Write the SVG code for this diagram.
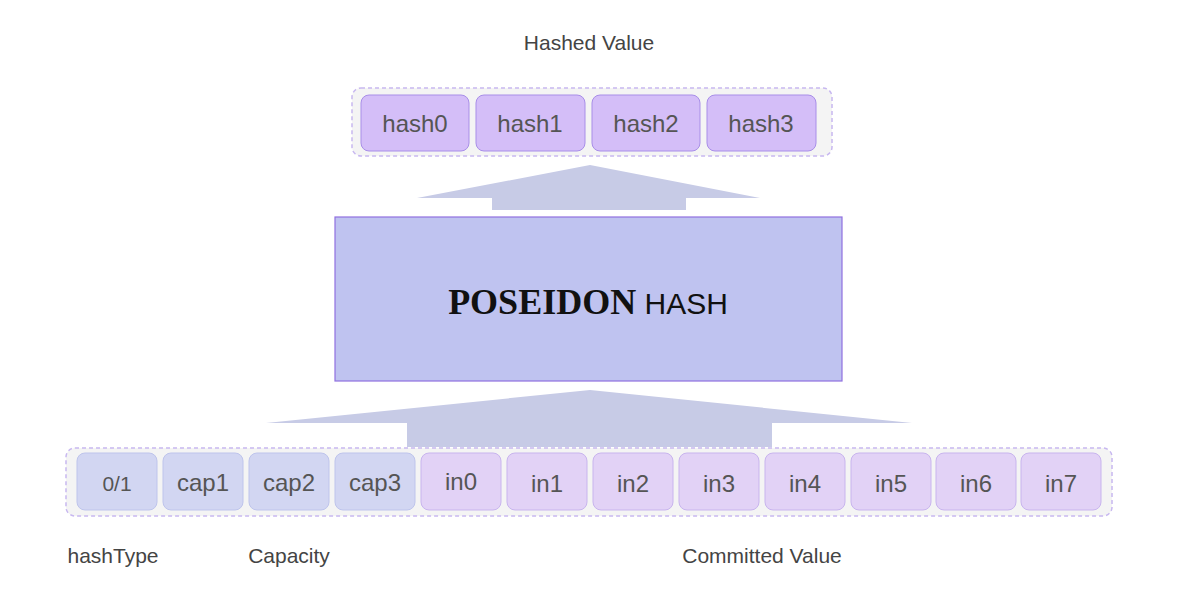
<svg xmlns="http://www.w3.org/2000/svg" width="1200" height="600" viewBox="0 0 1200 600">
<style>
.t{font-family:"Liberation Sans",Arial,sans-serif;fill:#555;text-anchor:middle}
.lbl{font-size:21px;fill:#444}
.cont{fill:#f4f4f4;stroke:#c8b8f0;stroke-width:1.5;stroke-dasharray:4 3}
.p{fill:#d4bef8;stroke:#a88ee8;stroke-width:1}
.c{fill:#d2d6f2;stroke:#bec4ec;stroke-width:1}
.i{fill:#e2d2f6;stroke:#c8b4ee;stroke-width:1}
.arr{fill:#c7cbe6}
</style>
<rect width="1200" height="600" fill="#fff"/>
<text class="t lbl" x="589" y="50">Hashed Value</text>
<text class="t lbl" x="113" y="563">hashType</text>
<text class="t lbl" x="289" y="563">Capacity</text>
<text class="t lbl" x="762" y="563">Committed Value</text>
<g id="connectors">
<path class="arr" d="M417 198 L590 165 L760 198 L686 198 L686 210 L492 210 L492 198 Z"/>
<path class="arr" d="M266 423 L590 390 L912 423 L772 423 L772 447 L407 447 L407 423 Z"/>
</g>
<g id="output">
<rect class="cont" x="352" y="88" width="480" height="68" rx="9"/>
<g id="hash0"><rect class="p" x="361" y="95" width="108" height="56" rx="8"/><text class="t" x="415" y="132" font-size="24">hash0</text></g>
<g id="hash1"><rect class="p" x="476" y="95" width="109" height="56" rx="8"/><text class="t" x="530" y="132" font-size="24">hash1</text></g>
<g id="hash2"><rect class="p" x="592" y="95" width="108" height="56" rx="8"/><text class="t" x="646" y="132" font-size="24">hash2</text></g>
<g id="hash3"><rect class="p" x="707" y="95" width="109" height="56" rx="8"/><text class="t" x="761" y="132" font-size="24">hash3</text></g>
</g>
<g id="poseidon">
<rect x="335" y="217" width="507" height="164" fill="#bfc3f0" stroke="#9070e0" stroke-width="1.2"/>
<text x="588" y="314" text-anchor="middle" fill="#111"><tspan font-family="Liberation Serif,serif" font-weight="bold" font-size="36">POSEIDON</tspan><tspan font-family="Liberation Sans,sans-serif" font-size="30"> HASH</tspan></text>
</g>
<g id="input">
<rect class="cont" x="66" y="448" width="1046" height="68" rx="9"/>
<g id="n01"><rect class="c" x="77" y="453" width="80" height="57" rx="8"/><text class="t" x="117" y="491" font-size="21" fill="#333">0/1</text></g>
<g id="cap1"><rect class="c" x="163" y="453" width="80" height="57" rx="8"/><text class="t" x="203" y="491" font-size="24">cap1</text></g>
<g id="cap2"><rect class="c" x="249" y="453" width="80" height="57" rx="8"/><text class="t" x="289" y="491" font-size="24">cap2</text></g>
<g id="cap3"><rect class="c" x="335" y="453" width="80" height="57" rx="8"/><text class="t" x="375" y="491" font-size="24">cap3</text></g>
<g id="in0"><rect class="i" x="421" y="453" width="80" height="57" rx="8"/><text class="t" x="461" y="490" font-size="24">in0</text></g>
<g id="in1"><rect class="i" x="507" y="453" width="80" height="57" rx="8"/><text class="t" x="547" y="492" font-size="24">in1</text></g>
<g id="in2"><rect class="i" x="593" y="453" width="80" height="57" rx="8"/><text class="t" x="633" y="492" font-size="24">in2</text></g>
<g id="in3"><rect class="i" x="679" y="453" width="80" height="57" rx="8"/><text class="t" x="719" y="492" font-size="24">in3</text></g>
<g id="in4"><rect class="i" x="765" y="453" width="80" height="57" rx="8"/><text class="t" x="805" y="492" font-size="24">in4</text></g>
<g id="in5"><rect class="i" x="851" y="453" width="80" height="57" rx="8"/><text class="t" x="891" y="492" font-size="24">in5</text></g>
<g id="in6"><rect class="i" x="936" y="453" width="80" height="57" rx="8"/><text class="t" x="976" y="492" font-size="24">in6</text></g>
<g id="in7"><rect class="i" x="1021" y="453" width="80" height="57" rx="8"/><text class="t" x="1061" y="492" font-size="24">in7</text></g>
</g>
</svg>
